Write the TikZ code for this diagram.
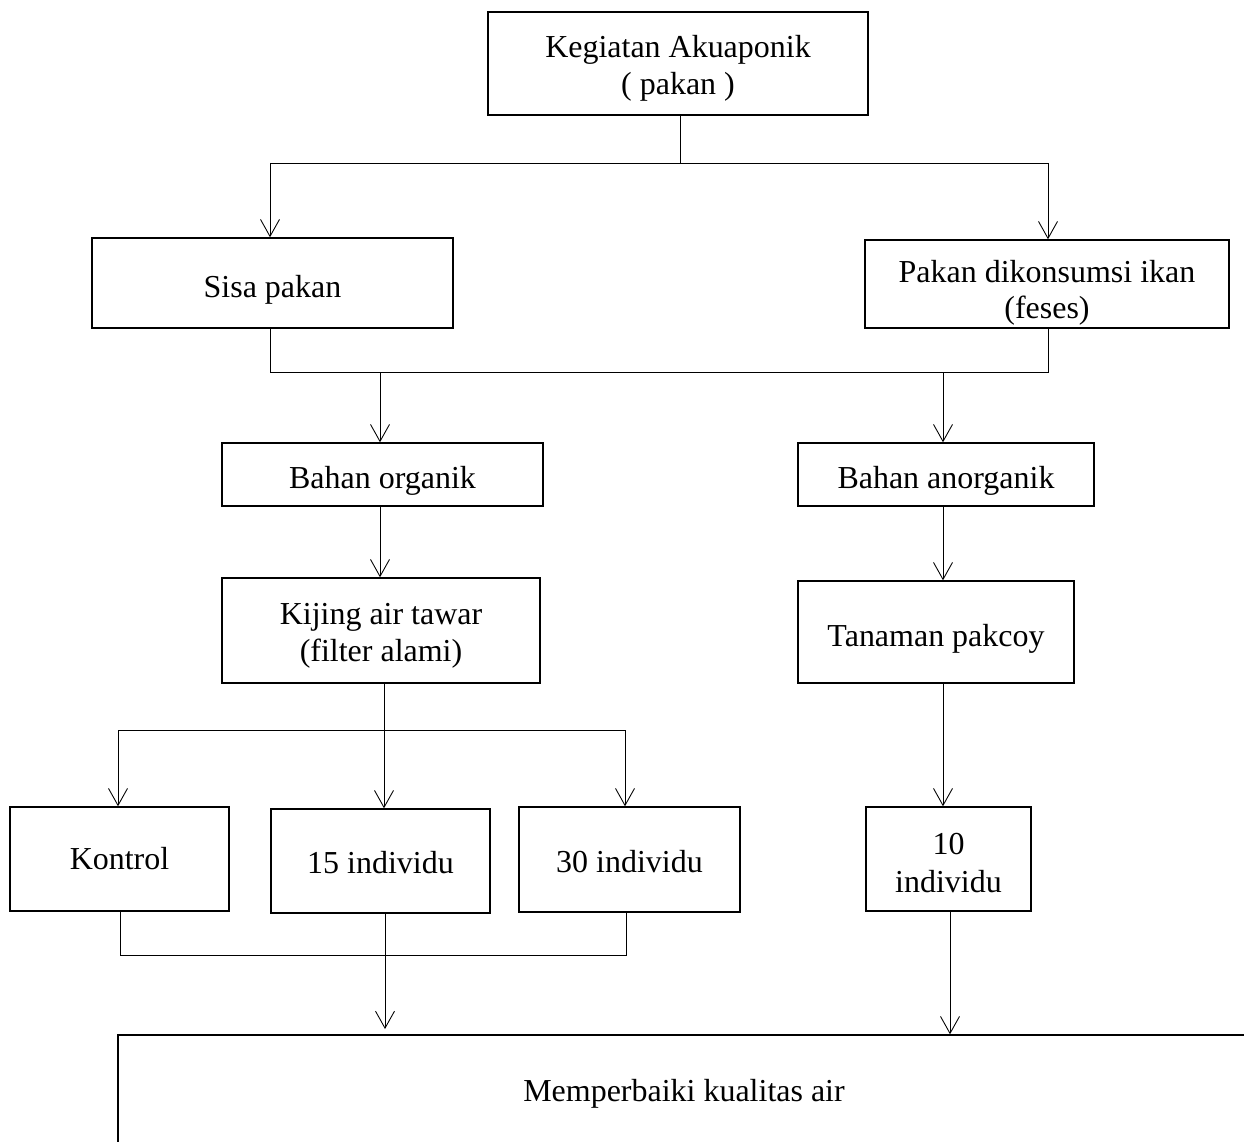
\documentclass[tikz,border=0pt]{standalone}
\usepackage{fontspec}
\setmainfont{Liberation Serif}
\usetikzlibrary{arrows.meta}
\newcommand\drop[2]{\raisebox{-#1}[\height][\depth]{#2}}

\begin{document}
\begin{tikzpicture}[x=.02cm,y=-.02cm,>={Straight Barb[length=3.4mm,width=3.8mm]},
  font=\fontsize{18.2}{21}\selectfont,
  box/.style={draw,line width=.8pt,align=center,inner sep=0pt},
  link/.style={line width=.5pt}]
\useasboundingbox (0,0) rectangle (1244,1142);
\clip (0,0) rectangle (1244,1142);
% boxes
\node[box,minimum width=7.6cm,minimum height=2.06cm] (keg) at (678,63.5)
  {\drop{2.8pt}{Kegiatan Akuaponik}\\\drop{2.8pt}{( pakan )}};
\node[box,minimum width=7.22cm,minimum height=1.8cm] (sisa) at (272.5,283)
  {\drop{4pt}{Sisa pakan}};
\node[box,minimum width=7.28cm,minimum height=1.76cm] (feses) at (1047,284)
  {\drop{5pt}{Pakan dikonsumsi ikan}\\\drop{5pt}{(feses)}};
\node[box,minimum width=6.42cm,minimum height=1.26cm] (org) at (382.5,474.5)
  {\drop{3.4pt}{Bahan organik}};
\node[box,minimum width=5.92cm,minimum height=1.26cm] (anorg) at (946,474.5)
  {\drop{3.4pt}{Bahan anorganik}};
\node[box,minimum width=6.36cm,minimum height=2.1cm] (kijing) at (381,630.5)
  {\drop{2.8pt}{Kijing air tawar}\\\drop{2.8pt}{(filter alami)}};
\node[box,minimum width=5.52cm,minimum height=2.04cm] (pakcoy) at (936,632)
  {\drop{4pt}{Tanaman pakcoy}};
\node[box,minimum width=4.38cm,minimum height=2.08cm] (kontrol) at (119.5,859) {Kontrol};
\node[box,minimum width=4.38cm,minimum height=2.08cm] (ind15) at (380.5,861)
  {\drop{1pt}{15 individu}};
\node[box,minimum width=4.42cm,minimum height=2.1cm] (ind30) at (629.5,859.5)
  {\drop{1pt}{30 individu}};
\node[box,minimum width=3.3cm,minimum height=2.08cm] (ind10) at (948.5,859)
  {\drop{2pt}{10}\\\drop{2.8pt}{individu}};
\node[box,minimum width=22.64cm,minimum height=2.28cm] (hasil) at (684,1092)
  {\drop{1pt}{Memperbaiki kualitas air}};
% junctions
\coordinate (t1) at (680,163);
\coordinate (b1l) at (270,163);
\coordinate (b1r) at (1048,163);
\coordinate (b2l) at (270,372);
\coordinate (b2r) at (1048,372);
\coordinate (a2l) at (380,372);
\coordinate (a2r) at (943,372);
\coordinate (t3) at (384,730);
\coordinate (b3l) at (118,730);
\coordinate (b3r) at (625,730);
\coordinate (b4l) at (120,955);
\coordinate (b4m) at (385,955);
\coordinate (b4r) at (626,955);
\coordinate (a5) at (950,911);
% connectors
\draw[link] (keg.south -| t1) -- (t1);
\draw[link] (b1l) -- (b1r);
\draw[link,->] (b1l) -- (b1l |- sisa.north);
\draw[link,->] (b1r) -- (b1r |- feses.north);
\draw[link] (sisa.south -| b2l) -- (b2l) -- (b2r) -- (feses.south -| b2r);
\draw[link,->] (a2l) -- (a2l |- org.north);
\draw[link,->] (a2r) -- (a2r |- anorg.north);
\draw[link,->] (org.south -| a2l) -- (a2l |- kijing.north);
\draw[link,->] (anorg.south -| a2r) -- (a2r |- pakcoy.north);
\draw[link] (kijing.south -| t3) -- (t3);
\draw[link] (b3l) -- (b3r);
\draw[link,->] (b3l) -- (b3l |- kontrol.north);
\draw[link,->] (t3) -- (t3 |- ind15.north);
\draw[link,->] (b3r) -- (b3r |- ind30.north);
\draw[link,->] (pakcoy.south -| a2r) -- (a2r |- ind10.north);
\draw[link] (kontrol.south -| b4l) -- (b4l) -- (b4r) -- (ind30.south -| b4r);
\draw[link] (ind15.south -| b4m) -- (b4m);
\draw[link,->,shorten >=3pt] (b4m) -- (b4m |- hasil.north);
\draw[link,->] (a5) -- (a5 |- hasil.north);
\end{tikzpicture}
\end{document}
